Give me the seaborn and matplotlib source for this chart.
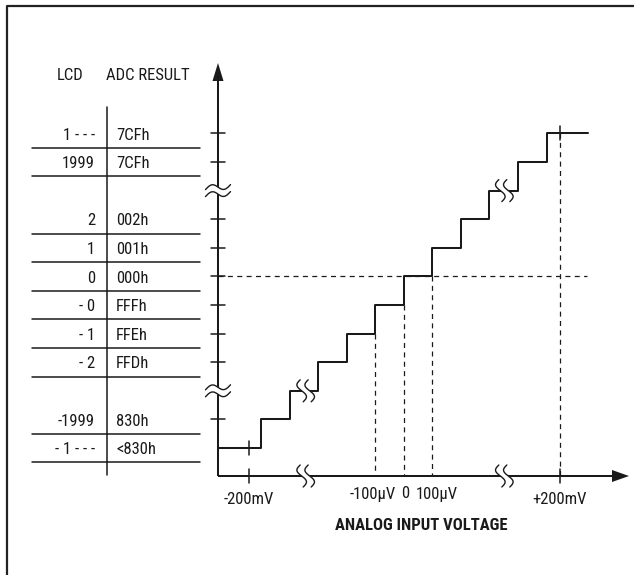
import numpy as np
import pandas as pd
import matplotlib
matplotlib.use("Agg")
import matplotlib.pyplot as plt
import seaborn as sns
from matplotlib import font_manager

# ---------------- data ----------------
lcd_labels = ['1 - - -', '1999', '2', '1', '0', '- 0', '- 1', '- 2', '-1999', '- 1 - - -']
adc_labels = ['7CFh', '7CFh', '002h', '001h', '000h', 'FFFh', 'FFEh', 'FFDh', '830h', '<830h']
row_levels = [11, 10, 8, 7, 6, 5, 4, 3, 1, 0]          # output code level of each table row
axis_break_levels = [9, 2]                              # levels hidden by the axis breaks
step_edges = [-5, -4, -3, -2, -1, 0, 1, 2, 3, 4, 5]     # code transitions (in LSB)
step_levels = [0, 1, 2, 3, 4, 5, 6, 7, 8, 9, 10, 11]    # code level after each edge
x_start, x_end = -6.53, 6.46                            # ends of the transfer curve
zero_level = 6                                          # 000h
fs_neg, fs_pos = -5.44, 5.47                            # -200mV / +200mV positions
lsb_ticks = [-1, 0, 1]
lsb_labels = ['-100µV', '0', '100µV']
fs_labels = ['-200mV', '+200mV']
x_break_pos = [-3.45, 3.52]
x_title = 'ANALOG INPUT VOLTAGE'

# ---------------- fonts / style ----------------
sns.set_style("white")
names = {f.name for f in font_manager.fontManager.ttflist}
narrow = [n for n in ('Liberation Sans Narrow', 'Roboto Condensed', 'Open Sans Condensed') if n in names]
fam = narrow + ['Liberation Sans', 'DejaVu Sans']
plt.rcParams['font.family'] = fam
FS = 12 if narrow else 11
FS_T = 12 if narrow else 10.5
INK = '#1a1a1a'

W, H = 634, 575
fig = plt.figure(figsize=(W / 100, H / 100), dpi=100)
ax = fig.add_axes([0, 0, 1, 1])
ax.set_axis_off()

# pixel-to-data helpers (x: 28.5 px per LSB, origin at 404px; y: 28.6 px per code, level 0 at 448px)
SX, SY, X0, Y0 = 28.5, 28.6, 404.0, 448.0
def X(px): return (px - X0) / SX
def Y(py): return (Y0 - py) / SY
def dx(p): return p / SX
def dy(p): return p / SY

ax.set_xlim(X(0), X(W))
ax.set_ylim(Y(H), Y(0))

LW = 1.45

# frame
ax.plot([X(7), X(7), X(W + 5)], [Y(H + 5), Y(5.5), Y(5.5)], color='#222222', lw=1.6, solid_capstyle='butt')

# axes
ax_x = X(218)
ax_y = Y(476)
ax.plot([ax_x, ax_x], [ax_y, Y(80)], color=INK, lw=LW, solid_capstyle='butt')
ax.fill([ax_x - dx(5.5), ax_x, ax_x + dx(5.5)], [Y(81), Y(63), Y(81)], color=INK, lw=0)
ax.plot([ax_x, X(613)], [ax_y, ax_y], color=INK, lw=LW, solid_capstyle='butt')
ax.fill([X(612), X(629), X(612)], [ax_y + dy(6), ax_y, ax_y - dy(6)], color=INK, lw=0)

# y ticks
for lv in row_levels:
    if lv == min(row_levels):
        continue
    ax.plot([ax_x - dx(7), ax_x + dx(7)], [lv, lv], color=INK, lw=1.1)

# staircase through seaborn
stair = pd.DataFrame({
    'x': [x_start] + step_edges + [x_end],
    'y': step_levels + [step_levels[-1]],
})
sns.lineplot(data=stair, x='x', y='y', ax=ax, color=INK, lw=LW, drawstyle='steps-post',
             sort=False, estimator=None, legend=False, zorder=3)

# dashed guides
dash = dict(color=INK, lw=0.9, dashes=(4, 3.5), zorder=2)
ax.plot([ax_x, x_end + dx(-1)], [zero_level, zero_level], **dash)
for e in lsb_ticks:
    k = step_edges.index(e)
    ax.plot([e, e], [step_levels[k], ax_y], **dash)
ax.plot([fs_pos, fs_pos], [step_levels[-1], ax_y], **dash)

# full-scale ticks
for xv in (fs_neg, fs_pos):
    ax.plot([xv, xv], [ax_y - dy(7), ax_y + dy(7)], color=INK, lw=1.1)
ax.plot([fs_neg, fs_neg], [step_levels[0] - dy(7), step_levels[0] + dy(7)], color=INK, lw=1.1, zorder=4)
ax.plot([fs_pos, fs_pos], [step_levels[-1] - dy(7), step_levels[-1] + dy(7)], color=INK, lw=1.1, zorder=4)

# break symbols
def ss_break(xc, yc):
    t = np.linspace(0, 1, 60)
    hh = 11.0
    ys = yc + dy(hh) * (1 - 2 * t)
    base = -dx(4.0) * np.sin(2 * np.pi * t) + dx(3.0) * (t - 0.5)
    x1 = xc - dx(4) + base
    x2 = xc + dx(4) + base
    ax.fill(np.r_[x1, x2[::-1]], np.r_[ys, ys[::-1]], color='white', lw=0, zorder=5)
    ax.plot(x1, ys, color=INK, lw=1.0, zorder=6)
    ax.plot(x2, ys, color=INK, lw=1.0, zorder=6)

def wave_break(xc, yc):
    s = np.linspace(0, 1, 60)
    xs = xc + dx(25) * (s - 0.5)
    base = dy(3.5) * np.sin(2 * np.pi * s) + dy(5) * (s - 0.5)
    y1 = yc + dy(3.5) + base
    y2 = yc - dy(3.5) + base
    ax.fill(np.r_[xs, xs[::-1]], np.r_[y1, y2[::-1]], color='white', lw=0, zorder=5)
    ax.plot(xs, y1, color=INK, lw=1.0, zorder=6)
    ax.plot(xs, y2, color=INK, lw=1.0, zorder=6)

for lv in axis_break_levels:
    wave_break(ax_x, lv)
for xb in x_break_pos:
    ss_break(xb, ax_y)
ss_break(x_break_pos[0], axis_break_levels[1])
ss_break(x_break_pos[1], axis_break_levels[0])

# table
col_x = X(107)
ax.plot([col_x, col_x], [Y(107), Y(475)], color=INK, lw=1.1)
for lv in row_levels:
    ax.plot([X(32), X(200)], [lv - 0.5, lv - 0.5], color=INK, lw=1.1)
for lv, l1, l2 in zip(row_levels, lcd_labels, adc_labels):
    ax.text(X(95), lv - 0.06, l1, ha='right', va='center', fontsize=FS, color=INK)
    ax.text(X(116), lv - 0.06, l2, ha='left', va='center', fontsize=FS, color=INK)
ax.text(X(70), Y(76), 'LCD', ha='center', va='center', fontsize=FS, color=INK)
ax.text(X(148), Y(76), 'ADC RESULT', ha='center', va='center', fontsize=FS, color=INK)

# x labels
for xv, lab in zip((fs_neg, fs_pos), fs_labels):
    ax.text(xv, Y(499), lab, ha='center', va='center', fontsize=FS, color=INK)
for xv, lab in zip(lsb_ticks, lsb_labels):
    off = {'-100µV': -dx(3), '0': dx(1), '100µV': dx(4.5)}[lab]
    ax.text(xv + off, Y(494), lab, ha='center', va='center', fontsize=FS, color=INK)
ax.text(X(421), Y(526), x_title, ha='center', va='center', fontsize=FS_T, fontweight='bold', color=INK)

fig.savefig('out.png', dpi=100, facecolor='white')
